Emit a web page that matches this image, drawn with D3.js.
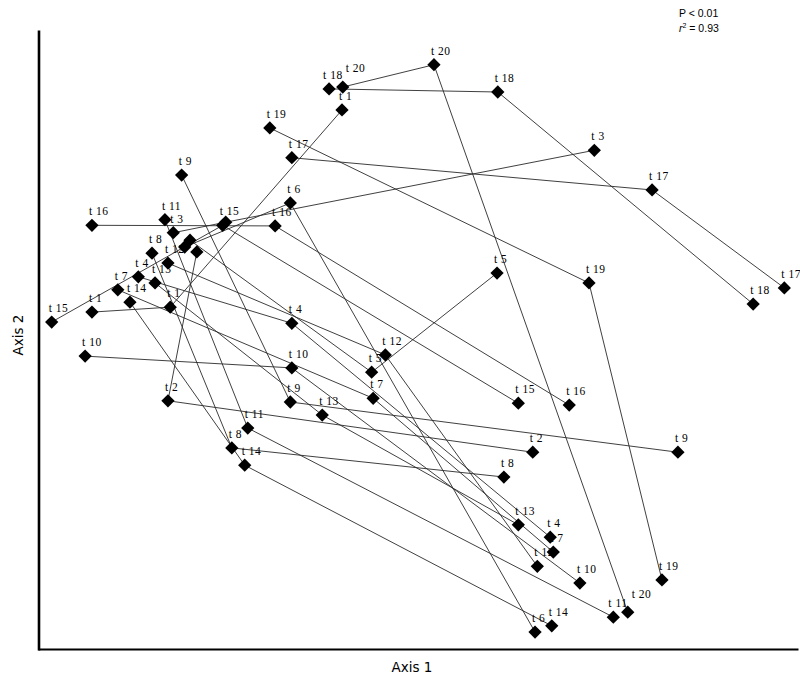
<!DOCTYPE html>
<html>
<head>
<meta charset="utf-8">
<script src="https://cdn.jsdelivr.net/npm/d3@7"></script>
<style>
  html, body { margin: 0; padding: 0; background: #fff; }
  svg { display: block; }
</style>
</head>
<body>
<svg id="chart" width="800" height="678"></svg>
<script>
// Samples (time steps) and their positions in three configurations (A -> B -> C)
const samples = ["t1","t2","t3","t4","t5","t6","t7","t8","t9","t10",
                 "t11","t12","t13","t14","t15","t16","t17","t18","t19","t20"];
const axis1A = [7.1, 20.9, 17.8, 13.2, 20.0, 19.3, 10.5, 15.0, 18.9, 6.2,
                16.7, 17.1, 15.4, 12.1, 1.8, 7.1, 33.4, 38.3, 30.5, 40.1];
const axis2A = [54.5, 64.2, 67.3, 60.2, 66.1, 65.0, 58.1, 64.0, 76.6, 47.4,
                69.4, 62.4, 59.2, 56.1, 52.9, 68.5, 79.4, 90.5, 84.2, 90.8];
const axis1B = [17.4, 17.1, 24.7, 33.4, 43.9, 33.2, 44.1, 25.5, 33.2, 33.4,
                27.6, 45.7, 37.4, 27.2, 24.3, 31.2, 80.8, 60.5, 72.5, 52.1];
const axis2B = [55.3, 40.2, 69.0, 52.7, 44.8, 72.1, 40.6, 32.6, 40.0, 45.5,
                35.8, 47.6, 37.9, 29.8, 68.5, 68.4, 74.2, 90.0, 59.2, 94.4];
const axis1C = [40.0, 65.1, 73.2, 67.4, 60.4, 65.4, 67.8, 61.3, 84.2, 71.3,
                75.7, 65.7, 63.2, 67.6, 63.2, 69.9, 98.2, 94.1, 82.1, 77.6];
const axis2C = [87.1, 31.9, 80.6, 18.2, 60.8, 2.9, 15.8, 27.9, 31.9, 10.8,
                5.3, 13.5, 20.2, 3.9, 39.8, 39.5, 58.4, 55.8, 11.3, 6.1];
// labels not drawn (hidden under other marks in the original)
const hiddenLabels = ["A:t2", "A:t5", "A:t6", "B:t3"];
const statLines = ["P < 0.01", "r² = 0.93"];

// label nudges (layout only) to keep crowded labels apart
const labelNudge = {"A:t20": [6, -5], "A:t18": [-3, 0], "C:t20": [7, -4], "C:t11": [-2, 0]};

const svg = d3.select("#chart");
const x = d3.scaleLinear().domain([0, 100]).range([38, 798]);
const y = d3.scaleLinear().domain([0, 100]).range([650, 30]);

const configs = [
  {key: "A", xs: axis1A, ys: axis2A},
  {key: "B", xs: axis1B, ys: axis2B},
  {key: "C", xs: axis1C, ys: axis2C}
];

const chains = samples.map((s, i) => ({
  name: s,
  pts: configs.map(c => ({cfg: c.key, name: s, x: c.xs[i], y: c.ys[i]}))
}));
const points = chains.flatMap(c => c.pts);

// connecting lines
const line = d3.line().x(d => x(d.x)).y(d => y(d.y));
svg.append("g")
  .selectAll("path")
  .data(chains)
  .join("path")
  .attr("d", d => line(d.pts))
  .attr("fill", "none")
  .attr("stroke", "#2a2a2a")
  .attr("stroke-width", 0.9);

// diamonds
const sym = d3.symbol().type(d3.symbolSquare).size(88);
svg.append("g")
  .selectAll("path")
  .data(points)
  .join("path")
  .attr("d", sym)
  .attr("transform", d => `translate(${x(d.x)},${y(d.y)}) rotate(45)`)
  .attr("fill", "#000");

// labels
const nud = d => labelNudge[d.cfg + ":" + d.name] || [0, 0];
svg.append("g")
  .selectAll("text")
  .data(points.filter(p => !hiddenLabels.includes(p.cfg + ":" + p.name)))
  .join("text")
  .attr("x", d => x(d.x) - 3 + nud(d)[0])
  .attr("y", d => y(d.y) - 10 + nud(d)[1])
  .attr("font-family", "Liberation Serif, serif")
  .attr("font-size", 11.5)
  .attr("letter-spacing", 0.5)
  .attr("fill", "#000")
  .text(d => d.name.replace("t", "t "));

// axes (plain lines, no ticks)
svg.append("g")
  .attr("transform", "translate(0,649)")
  .call(d3.axisBottom(x).tickValues([]).tickSizeOuter(0))
  .call(g => g.select(".domain").attr("stroke", "#000").attr("stroke-width", 2.2));
svg.append("g")
  .attr("transform", "translate(38.5,0)")
  .call(d3.axisLeft(y).tickValues([]).tickSizeOuter(0))
  .call(g => g.select(".domain").attr("stroke", "#000").attr("stroke-width", 2.6));

// axis titles
svg.append("text")
  .attr("x", 412).attr("y", 672)
  .attr("text-anchor", "middle")
  .attr("font-family", "DejaVu Sans, sans-serif")
  .attr("font-size", 13.5)
  .text("Axis 1");
svg.append("text")
  .attr("transform", "translate(23,335) rotate(-90)")
  .attr("text-anchor", "middle")
  .attr("font-family", "DejaVu Sans, sans-serif")
  .attr("font-size", 13.5)
  .text("Axis 2");

// statistics
svg.append("text")
  .attr("x", 679).attr("y", 17)
  .attr("font-family", "Liberation Sans, Arial, sans-serif")
  .attr("font-size", 10.5)
  .text(statLines[0]);
const r2 = svg.append("text")
  .attr("x", 679).attr("y", 32)
  .attr("font-family", "Liberation Sans, Arial, sans-serif")
  .attr("font-size", 10.5);
r2.append("tspan").attr("font-style", "italic").text("r");
r2.append("tspan").attr("dy", -4).attr("font-size", 7).text("2");
r2.append("tspan").attr("dy", 4).text(" " + statLines[1].split(" ").slice(1).join(" "));
</script>
</body>
</html>
